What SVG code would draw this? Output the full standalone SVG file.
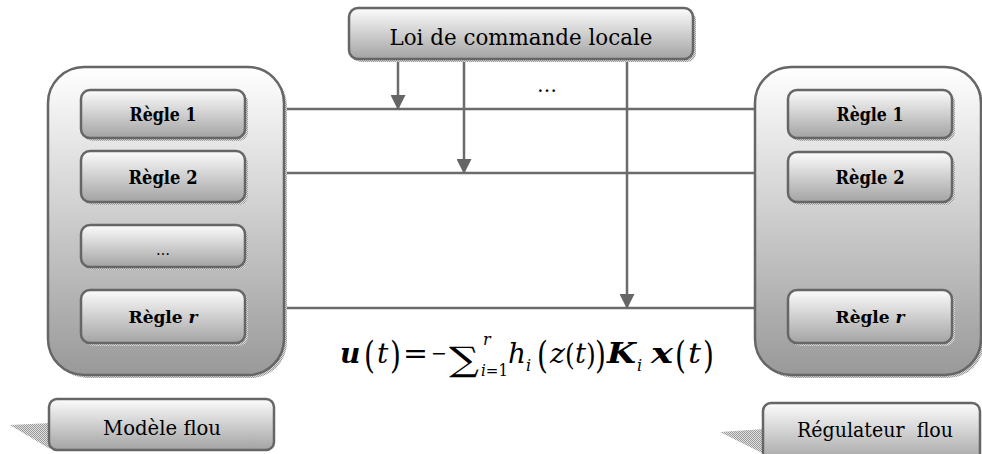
<svg xmlns="http://www.w3.org/2000/svg" width="982" height="454" viewBox="0 0 982 454">
<defs>
  <linearGradient id="gCont" x1="0" y1="0" x2="0" y2="1">
    <stop offset="0" stop-color="#ffffff"/>
    <stop offset="1" stop-color="#999999"/>
  </linearGradient>
  <linearGradient id="gBox" x1="0" y1="0" x2="0" y2="1">
    <stop offset="0" stop-color="#fcfcfc"/>
    <stop offset="1" stop-color="#a3a3a3"/>
  </linearGradient>
  <pattern id="hatch" width="2" height="2" patternUnits="userSpaceOnUse">
    <rect width="2" height="2" fill="#e0e0e0"/>
    <rect width="1" height="1" fill="#9a9a9a"/>
    <rect x="1" y="1" width="1" height="1" fill="#9a9a9a"/>
  </pattern>
  <marker id="arr" markerWidth="16" markerHeight="15" refX="14" refY="7.5" orient="auto" markerUnits="userSpaceOnUse">
    <path d="M0,0 L15,7.5 L0,15 Z" fill="#666666"/>
  </marker>
</defs>
<style>
  text { font-family: "DejaVu Serif", "Liberation Serif", serif; fill: #000; }
  .cont { fill: url(#gCont); stroke: #666666; stroke-width: 2.5; }
  .box { fill: url(#gBox); stroke: #666666; stroke-width: 2.5; }
  .shadow { fill: url(#hatch); }
  .line { stroke: #6b6b6b; stroke-width: 2.5; fill: none; }
  .rule { font-weight: bold; font-size: 19px; text-anchor: middle; }
  .ruler { font-weight: bold; font-size: 17px; text-anchor: middle; }
  .lbl { font-size: 21px; text-anchor: middle; }
  .m { font-size: 28px; }
  .bi { font-weight: bold; font-style: italic; }
  .it { font-style: italic; }
  .sub { font-size: 16px; }
  .ip { font-size: 25px; }
</style>

<g id="connectors">
  <line class="line" x1="284" y1="109" x2="755" y2="109"/>
  <line class="line" x1="284" y1="173" x2="755" y2="173"/>
  <line class="line" x1="284" y1="308" x2="755" y2="308"/>
  <line class="line" x1="398" y1="59" x2="398" y2="109" marker-end="url(#arr)"/>
  <line class="line" x1="464" y1="59" x2="464" y2="173" marker-end="url(#arr)"/>
  <line class="line" x1="627" y1="59" x2="627" y2="308" marker-end="url(#arr)"/>
</g>

<g id="loi">
  <rect class="shadow" x="352" y="11" width="344" height="51" rx="9"/>
  <rect class="box" x="349" y="8" width="344" height="51" rx="9"/>
  <text class="lbl" x="521" y="45" style="font-size:23px" textLength="263" lengthAdjust="spacingAndGlyphs">Loi de commande locale</text>
</g>
<text id="dots-top" x="547" y="92" style="font-size:20px;text-anchor:middle">…</text>

<g id="modele">
  <rect class="shadow" x="51" y="70" width="236" height="308" rx="36"/>
  <rect class="cont" x="48" y="67" width="236" height="308" rx="36"/>
  <g id="L1">
    <rect class="shadow" x="84" y="93" width="164" height="48" rx="9"/>
    <rect class="box" x="81" y="90" width="164" height="48" rx="9"/>
    <text class="rule" x="163" y="121" textLength="67" lengthAdjust="spacingAndGlyphs">Règle 1</text>
  </g>
  <g id="L2">
    <rect class="shadow" x="84" y="154" width="164" height="51" rx="9"/>
    <rect class="box" x="81" y="151" width="164" height="51" rx="9"/>
    <text class="rule" x="163" y="184" textLength="69" lengthAdjust="spacingAndGlyphs">Règle 2</text>
  </g>
  <g id="L3">
    <rect class="shadow" x="84" y="228" width="164" height="42" rx="9"/>
    <rect class="box" x="81" y="225" width="164" height="42" rx="9"/>
    <text x="163" y="255" style="font-size:14px;text-anchor:middle">…</text>
  </g>
  <g id="Lr">
    <rect class="shadow" x="84" y="293" width="164" height="53" rx="9"/>
    <rect class="box" x="81" y="290" width="164" height="53" rx="9"/>
    <text class="ruler" x="163" y="323">Règle <tspan font-style="italic">r</tspan></text>
  </g>
</g>

<g id="regulateur">
  <rect class="shadow" x="758" y="70" width="226" height="308" rx="36"/>
  <rect class="cont" x="755" y="67" width="226" height="308" rx="36"/>
  <g id="R1">
    <rect class="shadow" x="791" y="93" width="164" height="48" rx="9"/>
    <rect class="box" x="788" y="90" width="164" height="48" rx="9"/>
    <text class="rule" x="870" y="121" textLength="67" lengthAdjust="spacingAndGlyphs">Règle 1</text>
  </g>
  <g id="R2">
    <rect class="shadow" x="791" y="155" width="164" height="50" rx="9"/>
    <rect class="box" x="788" y="152" width="164" height="50" rx="9"/>
    <text class="rule" x="870" y="184" textLength="69" lengthAdjust="spacingAndGlyphs">Règle 2</text>
  </g>
  <g id="Rr">
    <rect class="shadow" x="791" y="293" width="164" height="53" rx="9"/>
    <rect class="box" x="788" y="290" width="164" height="53" rx="9"/>
    <text class="ruler" x="870" y="323">Règle <tspan font-style="italic">r</tspan></text>
  </g>
</g>

<g id="label-modele">
  <polygon class="shadow" points="10,425 50,423 50,449"/>
  <rect class="box" x="49" y="399" width="225" height="51" rx="8"/>
  <text class="lbl" x="162" y="435" textLength="118" lengthAdjust="spacingAndGlyphs">Modèle flou</text>
</g>

<g id="label-regulateur">
  <polygon class="shadow" points="720,432 764,429 764,454"/>
  <rect class="box" x="763" y="403" width="217" height="60" rx="8"/>
  <text class="lbl" x="875" y="437" textLength="156" lengthAdjust="spacingAndGlyphs" xml:space="preserve">Régulateur  flou</text>
</g>

<g id="formula">
  <text class="m bi" x="340" y="363">u</text>
  <text class="m" transform="translate(364,368) scale(1,1.35)">(</text>
  <text class="m it" x="377" y="363">t</text>
  <text class="m" transform="translate(390,368) scale(1,1.35)">)</text>
  <text class="m" x="403" y="363" textLength="25" lengthAdjust="spacingAndGlyphs">=</text>
  <text x="431" y="360" style="font-size:20px" textLength="16" lengthAdjust="spacingAndGlyphs">−</text>
  <text class="m" x="449" y="371" style="font-size:34px" textLength="30" lengthAdjust="spacingAndGlyphs">∑</text>
  <text class="m it sub" x="483" y="345">r</text>
  <text class="m sub" x="481" y="376" textLength="27" lengthAdjust="spacingAndGlyphs"><tspan font-style="italic">i</tspan>=1</text>
  <text class="m it" x="508" y="363" textLength="18" lengthAdjust="spacingAndGlyphs">h</text>
  <text class="m it sub" x="526" y="371">i</text>
  <text class="m" transform="translate(537,368) scale(1,1.35)">(</text>
  <text class="m it" x="550" y="363" textLength="15" lengthAdjust="spacingAndGlyphs">z</text>
  <text class="ip" transform="translate(565,365) scale(1,1.2)">(</text>
  <text class="m it" x="575" y="363" textLength="11" lengthAdjust="spacingAndGlyphs">t</text>
  <text class="ip" transform="translate(586,365) scale(1,1.2)">)</text>
  <text class="m" transform="translate(595,368) scale(1,1.35)">)</text>
  <text class="m bi" x="607" y="363" textLength="29" lengthAdjust="spacingAndGlyphs">K</text>
  <text class="m it sub" x="637" y="371">i</text>
  <text class="m bi" x="651" y="363" textLength="22" lengthAdjust="spacingAndGlyphs">x</text>
  <text class="m" transform="translate(675,368) scale(1,1.35)">(</text>
  <text class="m it" x="688" y="363" textLength="13" lengthAdjust="spacingAndGlyphs">t</text>
  <text class="m" transform="translate(703,368) scale(1,1.35)">)</text>
</g>
</svg>
